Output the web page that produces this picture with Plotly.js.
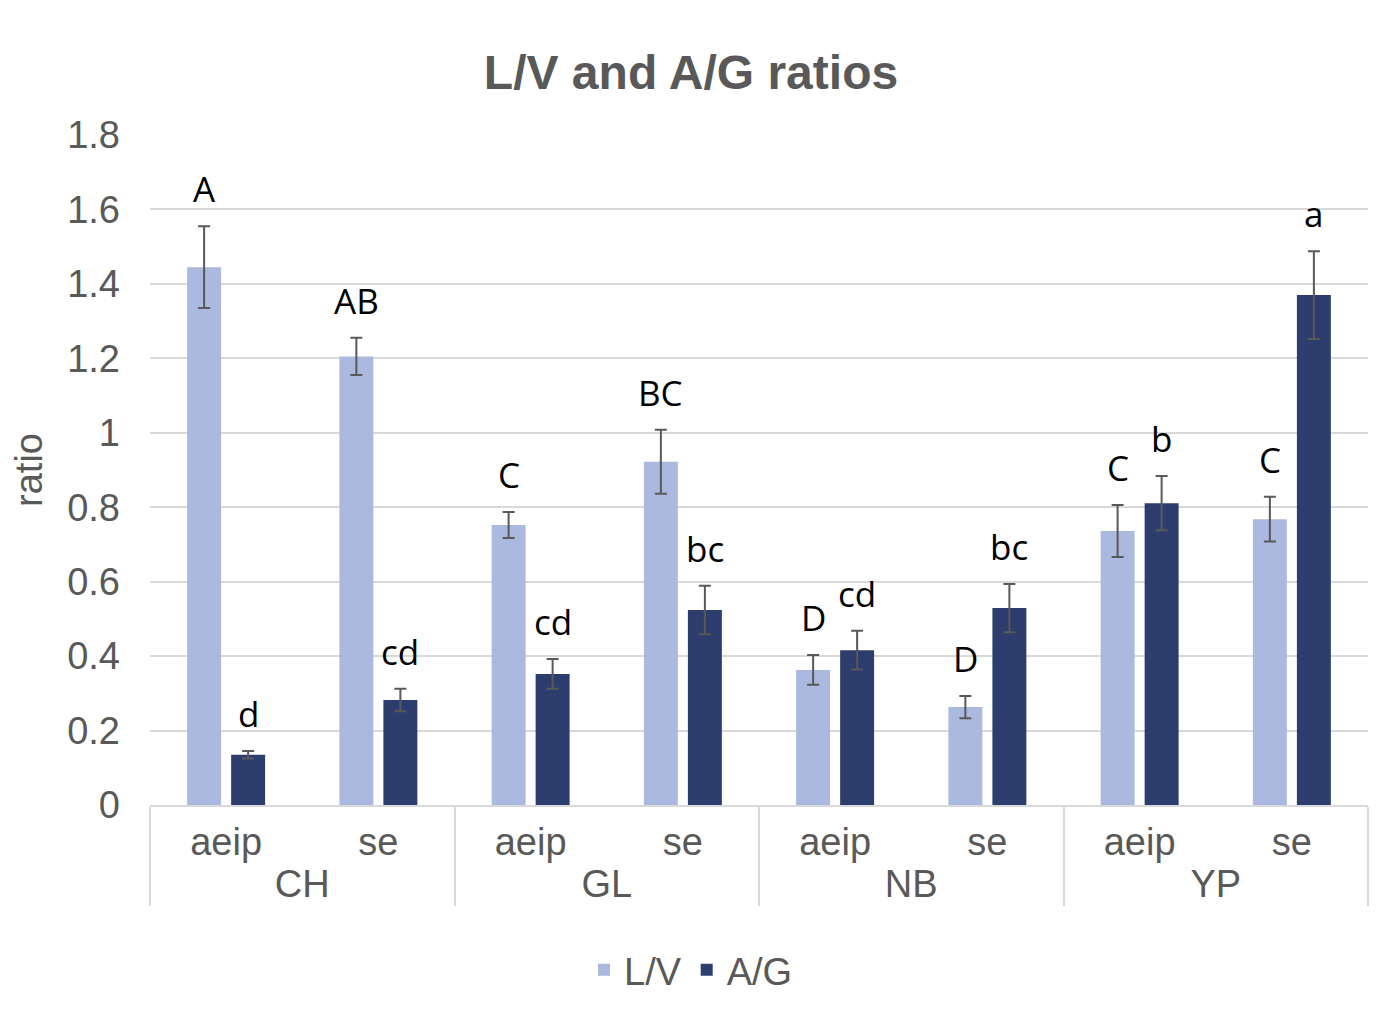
<!DOCTYPE html>
<html>
<head>
<meta charset="utf-8">
<script src="https://cdn.plot.ly/plotly-3.0.1.min.js"></script>
<style>html,body{margin:0;padding:0;background:#fff;}#chart{width:1382px;height:1009px;}</style>
</head>
<body>
<div id="chart"></div>
<script>
const groups = ['CH','CH','GL','GL','NB','NB','YP','YP'];
const subs = ['aeip','se','aeip','se','aeip','se','aeip','se'];
const lv = [1.445, 1.205, 0.752, 0.922, 0.363, 0.263, 0.736, 0.768];
const lvErr = [0.11, 0.05, 0.035, 0.086, 0.04, 0.03, 0.07, 0.06];
const ag = [0.135, 0.282, 0.352, 0.524, 0.416, 0.529, 0.811, 1.37];
const agErr = [0.01, 0.03, 0.04, 0.065, 0.052, 0.065, 0.073, 0.118];
const lvLetters = ['A','AB','C','BC','D','D','C','C'];
const agLetters = ['d','cd','cd','bc','cd','bc','b','a'];
const yTicks = [0, 0.2, 0.4, 0.6, 0.8, 1, 1.2, 1.4, 1.6, 1.8];

const axisFont = {family: 'Liberation Sans, Arial, sans-serif', size: 38, color: '#595959'};
const errStyle = {type: 'data', visible: true, color: '#595959', thickness: 2, width: 6};

const traces = [
  {type: 'bar', name: 'L/V', x: [groups, subs], y: lv,
   error_y: Object.assign({array: lvErr}, errStyle),
   marker: {color: '#abb9df', line: {width: 0}}},
  {type: 'bar', name: 'A/G', x: [groups, subs], y: ag,
   error_y: Object.assign({array: agErr}, errStyle),
   marker: {color: '#2d3e6e', line: {width: 0}}}
];

const annotations = [];
const letterFont = {family: 'Open Sans, sans-serif', size: 35, color: '#000'};
for (let i = 0; i < groups.length; i++) {
  annotations.push({x: i, y: lv[i] + lvErr[i], xref: 'x', yref: 'y', text: lvLetters[i],
    showarrow: false, xshift: -22, yanchor: 'bottom', yshift: 12, font: letterFont});
  annotations.push({x: i, y: ag[i] + agErr[i], xref: 'x', yref: 'y', text: agLetters[i],
    showarrow: false, xshift: 22, yanchor: 'bottom', yshift: 12, font: letterFont});
}

const layout = {
  width: 1382, height: 1009,
  margin: {l: 150, r: 14, t: 135, b: 204},
  paper_bgcolor: '#fff', plot_bgcolor: '#fff',
  font: axisFont,
  title: {text: '<b>L/V and A/G ratios</b>', x: 0.5, xref: 'container', xanchor: 'center',
          y: 1 - 72/1009, yanchor: 'middle', yref: 'container',
          font: {family: 'Liberation Sans, Arial, sans-serif', size: 48, color: '#595959'}},
  barmode: 'group', bargap: 0.422, bargroupgap: 0.228,
  showlegend: true,
  legend: {orientation: 'h', xref: 'container', x: 0.5, xanchor: 'center',
           yref: 'container', y: 1 - 970/1009, yanchor: 'middle',
           font: axisFont, itemwidth: 30},
  xaxis: {type: 'multicategory', showline: true, linecolor: '#d9d9d9', linewidth: 2,
          showdividers: true, dividercolor: '#d9d9d9', dividerwidth: 2,
          tickfont: axisFont, ticks: '', showgrid: false, ticklabelstandoff: 2},
  yaxis: {range: [0, 1.8], tickvals: yTicks, ticktext: yTicks.map(String),
          gridcolor: '#d9d9d9', gridwidth: 2, zeroline: false, showline: false,
          tickfont: axisFont, ticklabelstandoff: 29,
          title: {text: 'ratio', font: axisFont, standoff: 12}},
  annotations: annotations
};

Plotly.newPlot('chart', traces, layout, {displayModeBar: false, staticPlot: true});
</script>
</body>
</html>
